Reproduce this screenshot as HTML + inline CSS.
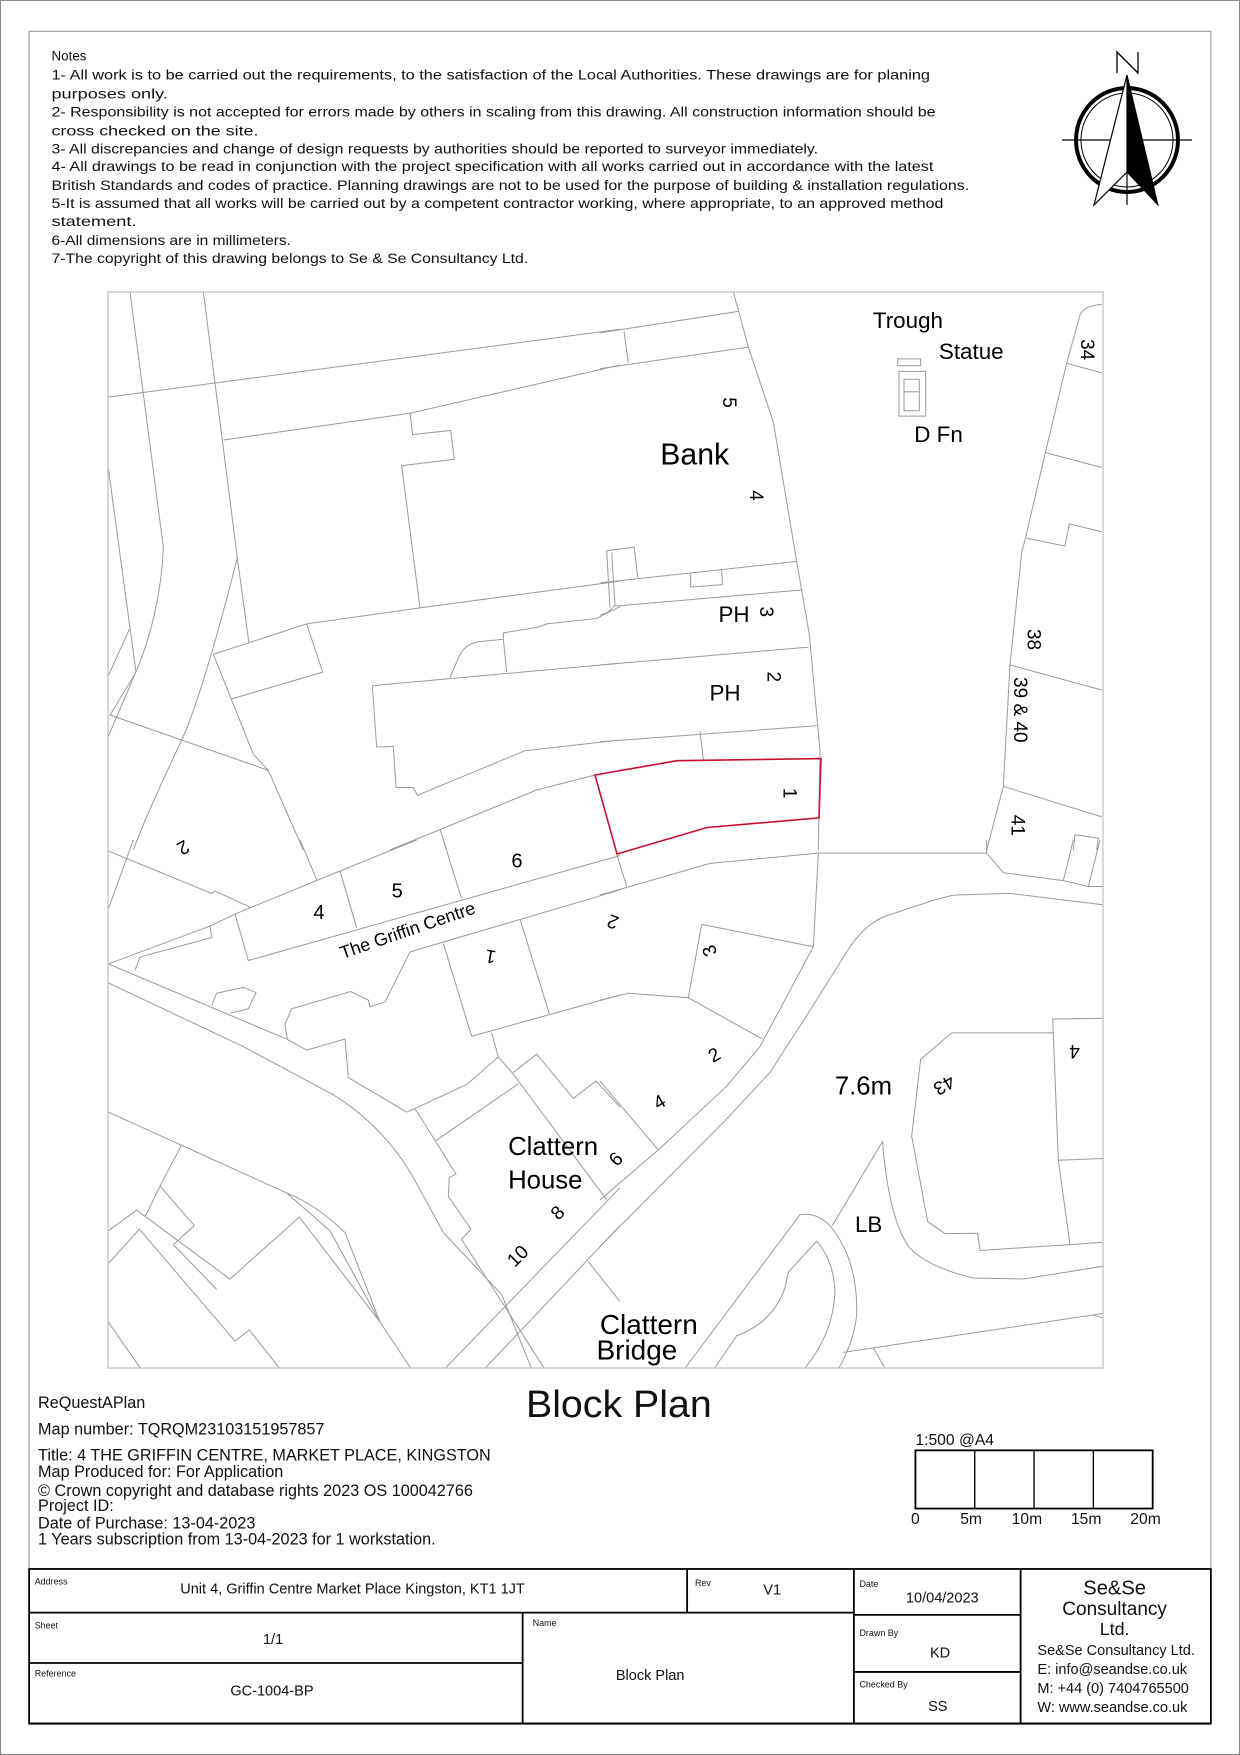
<!DOCTYPE html>
<html><head><meta charset="utf-8"><style>
html,body{margin:0;padding:0;background:#fff}
svg{display:block}
.m path,.m line,.m rect{fill:none;stroke:#9a9a9a;stroke-width:1;vector-effect:non-scaling-stroke}
.t{font-family:"Liberation Sans Narrow","Liberation Sans",sans-serif;fill:#111}
.a{font-family:"Liberation Sans",sans-serif;fill:#000}
</style></head><body>
<svg width="1240" height="1755" viewBox="0 0 1240 1755" xmlns="http://www.w3.org/2000/svg">
<rect x="0.5" y="0.5" width="1239" height="1754" fill="#fff" stroke="#888"/>
<defs><clipPath id="mc"><rect x="108" y="292" width="995" height="1076"/></clipPath></defs>
<g clip-path="url(#mc)" class="m">
<g transform="translate(100,290) scale(0.33333,0.35714)">
<path d="M90,5 L190,720 C185,850 150,980 105,1075 L25,1250"/>
<path d="M105,1075 L30,1190 L505,1345"/>
<path d="M310,5 L412,750 L447,990"/>
<path d="M412,750 C380,870 300,1150 245,1260 C190,1370 130,1490 100,1568"/>
<path d="M25,500 L108,1070"/>
<path d="M25,300 L1560,110"/>
<path d="M370,420 L930,345 L1560,210"/>
<path d="M930,345 L938,405 L1052,393 L1063,474 L905,492 L960,890"/>
<path d="M340,1020 L620,935 L960,890 L1560,815"/>
<path d="M620,935 L668,1070 L395,1145"/>
<path d="M340,1020 L460,1300 L505,1345 L610,1568"/>
<path d="M25,1080 L88,950"/>
<path d="M1520,730 L1560,725 M1520,730 L1530,890"/>
<path d="M1050,1085 L1080,1020 Q1100,990 1135,985 L1210,978 L1220,1070 M1210,978 L1210,960 L1310,945 L1340,935 L1490,920 L1530,900 L1560,887"/>
<path d="M817,1108 L1560,1045"/>
<path d="M817,1108 L830,1280 L880,1278 L888,1393 L940,1393 L952,1415 L1275,1290 L1560,1260"/>
<path d="M870,1568 L1310,1400 L1485,1358"/>
<path d="M1020,1510 L1040,1568"/>
</g>
<g transform="translate(600,290) scale(0.33333,0.35714)">
<path d="M0,120 L415,60 M72,115 L85,205 M0,220 L445,160"/>
<path d="M400,5 L445,160 L520,370 L590,760 L628,965 L660,1290 L655,1568"/>
<path d="M20,730 L103,720 L113,805 M0,820 L590,760 M272,795 L272,832 L367,825 L365,782"/>
<path d="M35,735 L45,880 Q30,905 0,910 M45,885 L605,840 M0,1050 L625,1000 M0,1265 L650,1220 M300,1235 L310,1315"/>
<path d="M1505,40 Q1450,45 1440,70 L1400,205 L1335,460 L1275,700 L1265,735 L1230,1050 L1210,1390 L1160,1568"/>
<path d="M1400,205 L1505,232 M1335,455 L1505,497 M1280,695 L1395,717 L1408,655 L1505,677 M1230,1050 L1505,1120 M1210,1390 L1505,1475 M1420,1568 L1425,1525 L1495,1535 L1490,1568"/>
<rect x="893" y="193" width="69" height="19"/><rect x="897" y="228" width="80" height="125"/><rect x="912" y="250" width="46" height="88"/><path d="M912,285 L958,285"/>
</g>
<g transform="translate(100,840) scale(0.33333,0.34435)">
<path d="M20,30 L335,155 L345,148 L450,195"/>
<path d="M25,200 L100,0 M600,0 L650,115"/>
<path d="M25,360 L330,250 L405,215 L720,90 L950,0"/>
<path d="M330,250 L335,283 L120,340 L105,378"/>
<path d="M405,215 L445,350 L1560,45 M720,90 L770,255 M1030,0 L1085,170"/>
<path d="M930,325 L1560,145 M930,325 L855,470 L810,485 L805,465 L752,440 L575,490 L555,535 L562,578"/>
<path d="M1030,300 L1115,570 L1560,450 M1260,230 L1348,505"/>
<path d="M25,415 L430,600 L700,740 Q850,830 940,980 L1030,1140 L1205,1320 L1305,1560"/>
<path d="M25,360 L560,578 L620,610 L735,578 L745,690 L920,790 L945,780 L1100,710 L1195,630 L1175,560"/>
<path d="M945,780 L1010,880 L1068,970 L1048,980 L1045,1035 L1113,1130 L1085,1160 L1350,1560"/>
<path d="M1005,875 L1255,708 M1195,630 L1240,680 L1520,1045 M1240,675 L1310,622 L1420,750 L1488,700 L1560,775"/>
<path d="M1010,1560 L1560,1010 M1130,1560 L1560,1120 M1465,1225 L1560,1340"/>
<path d="M25,790 L560,1025 Q650,1060 735,1140 L840,1400 M560,1025 L690,1135 L840,1400 L950,1560"/>
<path d="M245,885 L180,1005 L135,1095 M180,1005 L283,1120 L220,1175 M25,1135 L110,1075 L390,1275 L598,1095 L840,1400 M25,1230 L118,1130 L405,1455 L448,1423 L560,1560 M220,1175 L350,1305 M25,1400 L140,1560"/>
<path d="M335,480 L350,445 L430,428 L468,443 L445,490 L390,503"/>
</g>
<g transform="translate(600,840) scale(0.33333,0.34435)">
<path d="M0,160 L330,68 L655,38 L1160,38 L1210,95 L1390,118 L1465,135 L1508,135 M50,40 L80,135 M655,38 L640,310 M1160,0 L1160,38 M1390,118 L1420,0 M1465,135 L1500,0"/>
<path d="M305,245 L640,310 M305,245 L265,458 L485,577 M0,465 L85,445 L265,458"/>
<path d="M640,310 L480,600 L380,715 L175,900 L0,1045 M0,700 L175,900"/>
<path d="M0,1180 L380,810 L510,675 L620,510 L750,310 Q800,240 860,220 L1000,175 L1060,160 L1230,155 L1508,188"/>
<path d="M1358,520 L1508,518 M1055,560 L1358,560 M1358,518 L1375,930 L1410,1175 M1375,930 L1508,925 M1055,560 L962,637 L935,860 L983,1108 L1035,1143 L1133,1142 L1140,1192 L1410,1175 L1508,1168"/>
<path d="M848,875 L850,905 Q870,1100 925,1180 Q980,1240 1120,1272 L1270,1275 L1508,1238 M848,875 L697,1120"/>
<path d="M325,1560 L410,1440 Q520,1400 555,1300 L565,1255 L650,1165 Q700,1220 705,1310 Q700,1450 590,1560"/>
<path d="M235,1560 L600,1088 Q650,1080 690,1120 Q775,1220 770,1380 Q760,1470 700,1560"/>
<path d="M730,1488 L1508,1375 M820,1475 L870,1560 M1480,1380 L1508,1388"/>
</g>
</g>
<polygon points="595,775 677,760.7 821,758.6 819,817.9 707,827.5 617,854" fill="none" stroke="#c8102e" stroke-width="1.6"/>
<rect x="108" y="292" width="995" height="1076" fill="none" stroke="#bdbdbd" stroke-width="1.2"/>
<!-- north arrow -->
<g fill="none" stroke="#000">
<ellipse cx="1127" cy="140" rx="51" ry="52" stroke-width="4"/>
<ellipse cx="1127" cy="140" rx="46" ry="47" stroke-width="1"/>
<line x1="1062" y1="140" x2="1192" y2="140" stroke-width="1.2"/>
<line x1="1127" y1="140" x2="1127" y2="205" stroke-width="1.2"/>
<polygon points="1127,75 1094,205 1127,172" fill="#fff" stroke-width="1.2"/>
<polygon points="1127,75 1158,205 1127,172" fill="#000" stroke-width="1"/>
<path d="M1117,73 L1117,52 L1138,73 L1138,52" stroke-width="1.3"/>
</g>
<g transform="scale(1.1191)">
<rect x="26" y="28" width="1056" height="1513" fill="none" stroke="#999" stroke-width="1"/>
<g class="t" font-size="12">
<text x="46" y="54">Notes</text>
<text x="46" y="71" textLength="785" lengthAdjust="spacingAndGlyphs">1- All work is to be carried out the requirements, to the satisfaction of the Local Authorities. These drawings are for planing</text>
<text x="46" y="88" textLength="104" lengthAdjust="spacingAndGlyphs">purposes only.</text>
<text x="46" y="104" textLength="790" lengthAdjust="spacingAndGlyphs">2- Responsibility is not accepted for errors made by others in scaling from this drawing. All construction information should be</text>
<text x="46" y="121" textLength="185" lengthAdjust="spacingAndGlyphs">cross checked on the site.</text>
<text x="46" y="137" textLength="685" lengthAdjust="spacingAndGlyphs">3- All discrepancies and change of design requests by authorities should be reported to surveyor immediately.</text>
<text x="46" y="153" textLength="788" lengthAdjust="spacingAndGlyphs">4- All drawings to be read in conjunction with the project specification with all works carried out in accordance with the latest</text>
<text x="46" y="170" textLength="820" lengthAdjust="spacingAndGlyphs">British Standards and codes of practice. Planning drawings are not to be used for the purpose of building &amp; installation regulations.</text>
<text x="46" y="186" textLength="797" lengthAdjust="spacingAndGlyphs">5-It is assumed that all works will be carried out by a competent contractor working, where appropriate, to an approved method</text>
<text x="46" y="202" textLength="76" lengthAdjust="spacingAndGlyphs">statement.</text>
<text x="46" y="219" textLength="214" lengthAdjust="spacingAndGlyphs">6-All dimensions are in millimeters.</text>
<text x="46" y="235" textLength="426" lengthAdjust="spacingAndGlyphs">7-The copyright of this drawing belongs to Se &amp; Se Consultancy Ltd.</text>
</g>
<g class="a" font-size="20">
<text x="780" y="293">Trough</text>
<text x="839" y="321">Statue</text>
<text x="817" y="395">D Fn</text>
<text x="590" y="415" font-size="27">Bank</text>
<text x="642" y="556">PH</text>
<text x="634" y="626">PH</text>
<text x="454" y="1032" font-size="23">Clattern</text>
<text x="454" y="1062" font-size="23">House</text>
<text x="746" y="978" font-size="23">7.6m</text>
<text x="764" y="1101">LB</text>
<text x="536" y="1192" font-size="25">Clattern</text>
<text x="533" y="1215" font-size="25">Bridge</text>
<text x="280" y="821" font-size="18">4</text>
<text x="350" y="802" font-size="18">5</text>
<text x="457" y="775" font-size="18">6</text>
</g>
<g class="a" font-size="17">
<text transform="translate(646,355) rotate(90)">5</text>
<text transform="translate(670,438) rotate(90)">4</text>
<text transform="translate(679,542) rotate(90)">3</text>
<text transform="translate(686,600) rotate(90)">2</text>
<text transform="translate(700,704) rotate(90)">1</text>
<text transform="translate(966,303) rotate(90)">34</text>
<text transform="translate(918,562) rotate(90)">38</text>
<text transform="translate(906,605) rotate(90)">39 &amp; 40</text>
<text transform="translate(904,728) rotate(90)">41</text>
<text transform="translate(165,750) rotate(150)">2</text>
<text transform="translate(444,850) rotate(190)">1</text>
<text transform="translate(554,820) rotate(200)">2</text>
<text transform="translate(641,852) rotate(250)">3</text>
<text transform="translate(637,950) rotate(-30)">2</text>
<text transform="translate(588,992) rotate(-30)">4</text>
<text transform="translate(551,1043) rotate(-45)">6</text>
<text transform="translate(499,1091) rotate(-45)">8</text>
<text transform="translate(460,1133) rotate(-45)">10</text>
<text transform="translate(849,960) rotate(150)">43</text>
<text transform="translate(965,934) rotate(180)">4</text>
<text transform="translate(306,857) rotate(-19)" font-size="16">The Griffin Centre</text>
</g>
<g class="t" font-size="14.5">
<text x="34" y="1258">ReQuestAPlan</text>
<text x="34" y="1282">Map number: TQRQM23103151957857</text>
<text x="34" y="1305">Title: 4 THE GRIFFIN CENTRE, MARKET PLACE, KINGSTON</text>
<text x="34" y="1320">Map Produced for: For Application</text>
<text x="34" y="1337">© Crown copyright and database rights 2023 OS 100042766</text>
<text x="34" y="1350">Project ID:</text>
<text x="34" y="1366">Date of Purchase: 13-04-2023</text>
<text x="34" y="1380">1 Years subscription from 13-04-2023 for 1 workstation.</text>
<text x="470" y="1266" font-size="34" textLength="166" lengthAdjust="spacingAndGlyphs">Block Plan</text>
<text x="818" y="1291" font-size="14">1:500  @A4</text>
<text x="814" y="1362" font-size="14">0</text>
<text x="858" y="1362" font-size="14">5m</text>
<text x="904" y="1362" font-size="14">10m</text>
<text x="957" y="1362" font-size="14">15m</text>
<text x="1010" y="1362" font-size="14">20m</text>
</g>
<g fill="none" stroke="#000" stroke-width="1.2">
<rect x="818" y="1296" width="212" height="52" stroke-width="1.6"/>
<path d="M871,1296 V1348 M924,1296 V1348 M977,1296 V1348"/>
</g>
<g fill="none" stroke="#000" stroke-width="1.6">
<rect x="26" y="1402" width="1056" height="138"/>
<path d="M26,1441 H763 M614,1402 V1441 M467,1441 V1540 M26,1486 H467 M763,1402 V1540 M763,1443 H912 M763,1494 H912 M912,1402 V1540"/>
</g>
<g class="t" font-size="8">
<text x="31" y="1416">Address</text><text x="621" y="1417">Rev</text><text x="768" y="1418">Date</text>
<text x="31" y="1455">Sheet</text><text x="476" y="1453">Name</text><text x="31" y="1498">Reference</text>
<text x="768" y="1462">Drawn By</text><text x="768" y="1508">Checked By</text>
</g>
<g class="t" font-size="13" text-anchor="middle">
<text x="315" y="1424">Unit 4, Griffin Centre Market Place Kingston, KT1 1JT</text>
<text x="690" y="1425">V1</text>
<text x="842" y="1432">10/04/2023</text>
<text x="244" y="1469">1/1</text>
<text x="581" y="1501">Block Plan</text>
<text x="243" y="1515">GC-1004-BP</text>
<text x="840" y="1481">KD</text>
<text x="838" y="1529">SS</text>
<text x="996" y="1425" font-size="18">Se&amp;Se</text>
<text x="996" y="1443" font-size="17">Consultancy</text>
<text x="996" y="1461" font-size="16">Ltd.</text>
</g>
<g class="t" font-size="13">
<text x="927" y="1479">Se&amp;Se Consultancy Ltd.</text>
<text x="927" y="1496">E: info@seandse.co.uk</text>
<text x="927" y="1513">M: +44 (0) 7404765500</text>
<text x="927" y="1530">W: www.seandse.co.uk</text>
</g>
</g>
</svg>
</body></html>
